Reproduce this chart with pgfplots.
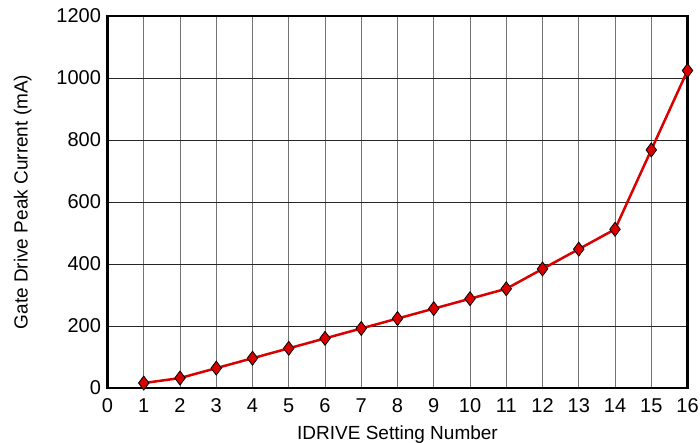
\documentclass[border=0pt]{standalone}
\usepackage{pgfplots}
\pgfplotsset{compat=1.18}
\usepackage{fontspec}
\setmainfont{Liberation Sans}
\begin{document}
\begin{tikzpicture}
\useasboundingbox (-107.5pt,-55pt) rectangle (592.5pt,388pt);
\begin{axis}[
  at={(0,0)}, anchor=origin,
  scale only axis,
  width=580pt, height=372pt,
  xmin=0, xmax=16, ymin=0, ymax=1200,
  xtick={0,1,...,16}, ytick={0,200,...,1200},
  /pgf/number format/assume math mode=true,
  /pgf/number format/1000 sep={},
  tick style={draw=none},
  grid=major,
  x grid style={draw=black!55, line width=1pt},
  y grid style={draw=black!85, line width=0.9pt},
  axis line style={line width=2.5pt},
  xticklabel style={font=\fontsize{20}{22}\selectfont, yshift=-7pt},
  yticklabel style={font=\fontsize{20}{22}\selectfont, xshift=-3pt},
  xlabel={IDRIVE Setting Number},
  ylabel={Gate Drive Peak Current (mA)},
  label style={font=\fontsize{19}{21}\selectfont},
  xlabel style={yshift=-6pt},
  ylabel style={yshift=18pt},
  clip=false,
]
\addplot[color=red!85!black, line width=2.5pt,
  mark=diamond*, mark size=7pt,
  mark options={fill=red!85!black, draw=black, line width=0.8pt}]
coordinates {
(1,16) (2,32) (3,64) (4,96) (5,128) (6,160) (7,192) (8,224)
(9,256) (10,288) (11,320) (12,384) (13,448) (14,512) (15,768) (16,1024)
};
\end{axis}
\end{tikzpicture}
\end{document}
